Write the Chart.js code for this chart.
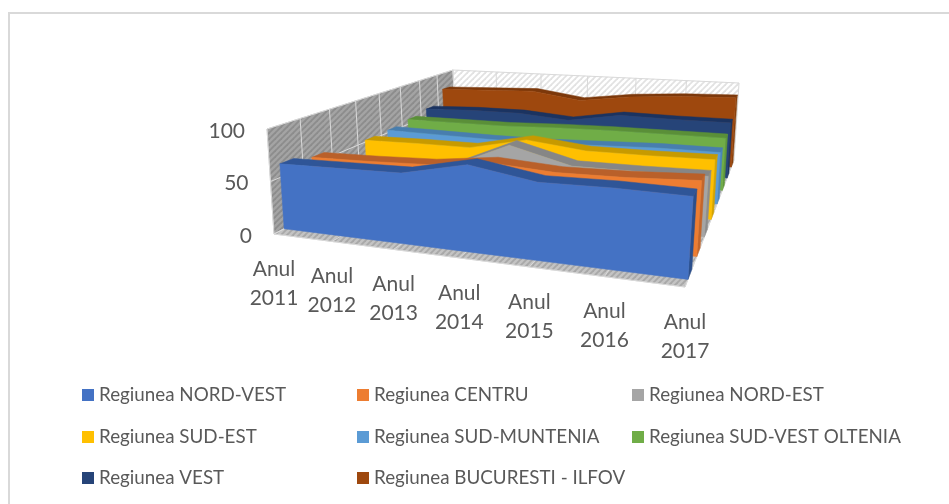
<!DOCTYPE html>
<html>
<head>
<meta charset="utf-8">
<style>
  html, body { margin: 0; padding: 0; background: #fff; }
  canvas { display: block; }
</style>
<script src="https://cdn.jsdelivr.net/npm/chart.js@4/dist/chart.umd.min.js"></script>
</head>
<body>
<canvas id="area3d" width="949" height="504"></canvas>
<script>
// Chart data
var categories = ['Anul 2011', 'Anul 2012', 'Anul 2013', 'Anul 2014', 'Anul 2015', 'Anul 2016', 'Anul 2017'];
var yTicks = [0, 50, 100];

var regions = ['Regiunea NORD-VEST', 'Regiunea CENTRU', 'Regiunea NORD-EST', 'Regiunea SUD-EST',
    'Regiunea SUD-MUNTENIA', 'Regiunea SUD-VEST OLTENIA', 'Regiunea VEST', 'Regiunea BUCURESTI - ILFOV'];
var nordVest = [63, 64, 65, 78, 68, 69, 68];
var centru = [57, 58, 60, 67, 63, 64, 67];
var nordEst = [42, 42, 45, 72, 56, 56, 57];
var sudEst = [52, 53, 53, 66, 59, 59, 60];
var sudMuntenia = [53, 52, 51, 51, 53, 55, 55];
var sudVestOltenia = [56, 56, 56, 58, 59, 59, 59];
var vest = [60, 62, 62, 57, 67, 66, 66];
var bucuresti = [78, 80, 82, 73, 81, 85, 87];

var colors = ['#4472C4', '#ED7D31', '#A5A5A5', '#FFC000', '#5B9BD5', '#70AD47', '#264478', '#9E480E'];
var topColors = ['#2F5597', '#B9602A', '#868686', '#C79A00', '#487EAE', '#5A8F38', '#1B3360', '#7C380B'];
var sideColors = ['#2B4F8C', '#C4662A', '#8C8C8C', '#D4A400', '#4A85BA', '#5E963A', '#1D3660', '#86400C'];

// The box of the 3D view, as seen on the page
var floorBox = [[274, 234], [685, 287], [734, 160], [456, 140]];
var topBox = [[267, 129], [693, 162], [739, 83], [453, 70]];
var bandStart = 0.3;
var bandDepth = 0.42;

function makeHomography(q) {
    var dx1 = q[1][0] - q[2][0], dx2 = q[3][0] - q[2][0], sx = q[0][0] - q[1][0] + q[2][0] - q[3][0];
    var dy1 = q[1][1] - q[2][1], dy2 = q[3][1] - q[2][1], sy = q[0][1] - q[1][1] + q[2][1] - q[3][1];
    var den = dx1 * dy2 - dx2 * dy1;
    var g = (sx * dy2 - dx2 * sy) / den, h = (dx1 * sy - sx * dy1) / den;
    var a = q[1][0] - q[0][0] + g * q[1][0], b = q[3][0] - q[0][0] + h * q[3][0];
    var d = q[1][1] - q[0][1] + g * q[1][1], e = q[3][1] - q[0][1] + h * q[3][1];
    return function (u, v) {
        var w = g * u + h * v + 1;
        return [(a * u + b * v + q[0][0]) / w, (d * u + e * v + q[0][1]) / w];
    };
}

var floorMap = makeHomography(floorBox);
var topMap = makeHomography(topBox);

function project(u, v, h) {
    var p = floorMap(u, v), t = topMap(u, v);
    return [p[0] + (t[0] - p[0]) * h, p[1] + (t[1] - p[1]) * h];
}

function polygon(ctx, pts, fill) {
    ctx.beginPath();
    pts.forEach(function (p, i) {
        if (i === 0) ctx.moveTo(p[0], p[1]); else ctx.lineTo(p[0], p[1]);
    });
    ctx.closePath();
    ctx.fillStyle = fill;
    ctx.fill();
    // same colour stroke closes the hairline gaps
    ctx.strokeStyle = fill;
    ctx.lineWidth = 0.5;
    ctx.stroke();
}

function segment(ctx, a, b, color, width) {
    ctx.beginPath();
    ctx.moveTo(a[0], a[1]);
    ctx.lineTo(b[0], b[1]);
    ctx.strokeStyle = color;
    ctx.lineWidth = width;
    ctx.stroke();
}

function hatch(ctx, base, stripe) {
    var tile = document.createElement('canvas');
    tile.width = tile.height = 6;
    var t = tile.getContext('2d');
    t.fillStyle = base;
    t.fillRect(0, 0, 6, 6);
    t.strokeStyle = stripe;
    t.lineWidth = 1.8;
    [[-1, 7, 7, -1], [-4, 4, 4, -4], [2, 10, 10, 2]].forEach(function (l) {
        t.beginPath();
        t.moveTo(l[0], l[1]);
        t.lineTo(l[2], l[3]);
        t.stroke();
    });
    return ctx.createPattern(tile, 'repeat');
}

// Walls, floor and grid
var wallsPlugin = {
    id: 'walls',
    beforeDraw: function (chart) {
        var ctx = chart.ctx;
        ctx.save();
        ctx.fillStyle = '#D9D9D9';
        ctx.fillRect(8, 12, 2, 492);
        ctx.fillRect(8, 12, 941, 2);

        polygon(ctx, [project(0, 0, 0), project(0, 1, 0), project(0, 1, 1), project(0, 0, 1)], hatch(ctx, '#A4A4A4', '#8C8C8C'));
        polygon(ctx, [project(0, 1, 0), project(1, 1, 0), project(1, 1, 1), project(0, 1, 1)], hatch(ctx, '#FFFFFF', '#E2E2E2'));
        polygon(ctx, [project(0, 0, 0), project(1, 0, 0), project(1, 1, 0), project(0, 1, 0)], hatch(ctx, '#C4C4C4', '#A8A8A8'));

        var i;
        for (i = 0; i <= regions.length; i++) {
            var v = i / regions.length;
            segment(ctx, project(0, v, 0), project(0, v, 1), '#D9D9D9', 1);
            segment(ctx, project(0, v, 0), project(1, v, 0), '#D9D9D9', 1);
        }
        for (i = 0; i < categories.length; i++) {
            var u = i / (categories.length - 1);
            segment(ctx, project(u, 1, 0), project(u, 1, 1), '#D9D9D9', 1);
            segment(ctx, project(u, 0, 0), project(u, 1, 0), '#D9D9D9', 1);
        }
        chart.scales.y.ticks.forEach(function (tick) {
            var h = tick.value / chart.scales.y.max;
            segment(ctx, project(0, 0, h), project(0, 1, h), '#D9D9D9', 1);
            segment(ctx, project(0, 1, h), project(1, 1, h), '#D9D9D9', 1);
        });
        ctx.restore();
    }
};

// Each dataset is turned into a band: right end, top surface, front face
var bandsPlugin = {
    id: 'bands',
    beforeDatasetDraw: function (chart, args) {
        var ctx = chart.ctx, xs = chart.scales.x, ys = chart.scales.y;
        var n = args.index;
        var front = (n + bandStart) / regions.length;
        var back = (n + bandStart + bandDepth) / regions.length;
        var frontTop = [], backTop = [], frontBase = [];
        args.meta.data.forEach(function (pt) {
            var u = (pt.x - xs.left) / xs.width;
            var h = (ys.bottom - pt.y) / ys.height;
            frontTop.push(project(u, front, h));
            backTop.push(project(u, back, h));
            frontBase.push(project(u, front, 0));
        });
        var last = frontTop.length - 1;
        var lastU = (args.meta.data[last].x - xs.left) / xs.width;
        ctx.save();
        polygon(ctx, [frontTop[last], backTop[last], project(lastU, back, 0), frontBase[last]], sideColors[n]);
        polygon(ctx, frontTop.concat(backTop.slice().reverse()), topColors[n]);
        polygon(ctx, frontTop.concat(frontBase.slice().reverse()), colors[n]);
        ctx.restore();
    }
};

// Axis labels sit on the projected edges, legend in three even columns
var labelsPlugin = {
    id: 'labels3d',
    afterDraw: function (chart) {
        var ctx = chart.ctx, xs = chart.scales.x, ys = chart.scales.y;
        ctx.save();
        ctx.fillStyle = '#595959';
        ctx.textBaseline = 'middle';

        ctx.font = '21px Lato';
        ctx.textAlign = 'right';
        ys.ticks.forEach(function (tick) {
            var p = project(0, 0, tick.value / ys.max);
            ctx.fillText(String(tick.value), p[0] - 22, p[1] + 2);
        });

        ctx.textAlign = 'center';
        xs.getLabels().forEach(function (label, i) {
            var p = project(i / (categories.length - 1), 0, 0);
            label.split(' ').forEach(function (word, line) {
                ctx.fillText(word, p[0], p[1] + 35 + line * 29);
            });
        });

        ctx.font = '18.8px Lato';
        ctx.textAlign = 'left';
        var columns = [82, 357, 632], rows = [395, 437, 478];
        chart.data.datasets.forEach(function (ds, i) {
            var x = columns[i % 3], y = rows[Math.floor(i / 3)];
            ctx.fillStyle = colors[i];
            ctx.fillRect(x, y - 6, 12, 12);
            ctx.fillStyle = '#595959';
            ctx.fillText(ds.label, x + 17, y);
        });
        ctx.restore();
    }
};

var allSeries = [nordVest, centru, nordEst, sudEst, sudMuntenia, sudVestOltenia, vest, bucuresti];

var config = {
    type: 'line',
    data: {
        labels: categories,
        datasets: allSeries.map(function (values, i) {
            return { label: regions[i], data: values, borderColor: colors[i], backgroundColor: colors[i], showLine: false, pointRadius: 0 };
        })
    },
    options: {
        responsive: false,
        animation: false,
        plugins: { legend: { display: false }, tooltip: { enabled: false } },
        scales: {
            x: { display: false, offset: false },
            y: { display: false, min: yTicks[0], max: yTicks[yTicks.length - 1], afterBuildTicks: function (axis) {
                axis.ticks = yTicks.map(function (v) { return { value: v }; });
            } }
        }
    },
    plugins: [wallsPlugin, bandsPlugin, labelsPlugin]
};

new Chart(document.getElementById('area3d'), config);
</script>
</body>
</html>
